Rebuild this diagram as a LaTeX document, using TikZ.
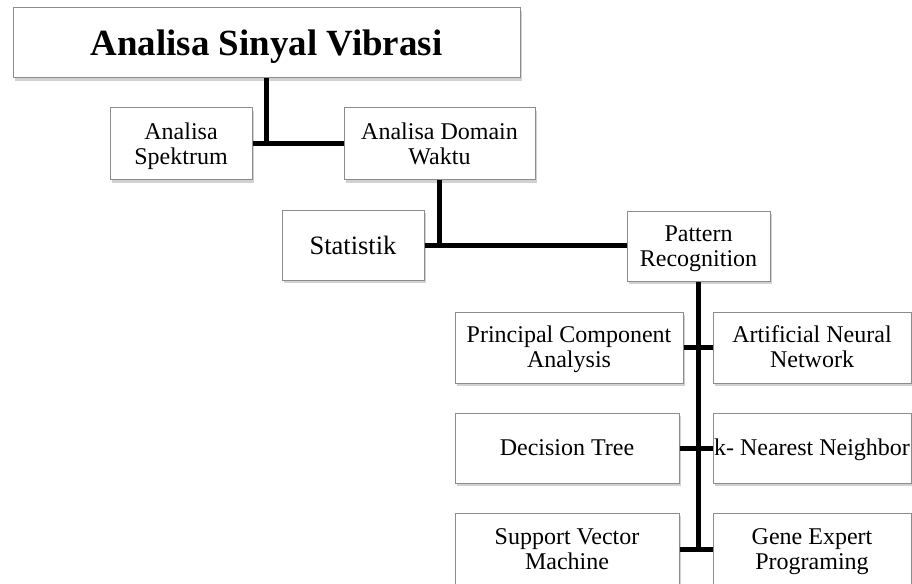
\documentclass[tikz,border=0pt]{standalone}
\usepackage{fontspec}
\setmainfont{Liberation Serif}
\usetikzlibrary{shadows}

\tikzset{every picture/.style={line width=0.75pt}}
\tikzset{
  box/.style={draw={rgb, 255:red, 140; green, 140; blue, 140}, fill=white, line width=0.75pt, align=center, inner sep=0.5pt,
    drop shadow={shadow xshift=1.2pt, shadow yshift=-2.2pt, fill=black!45, opacity=0.4},
    font=\fontsize{18}{18.75}\selectfont, text height=16.4pt, text depth=4.5pt},
  twoline/.style={text height=35.15pt},
  conn/.style={line width=3.75pt, color=black},
}

\begin{document}
\begin{tikzpicture}[x=0.75pt,y=0.75pt,yscale=-1,xscale=1]
    \useasboundingbox (0,0) rectangle (912,584);
    \clip (0,0) rectangle (912,584);

    % Title Box
    \node [box, minimum width=380.25pt, minimum height=52.5pt, font=\fontsize{27.7}{30}\selectfont\bfseries, text height=23.8pt, text depth=5pt] (title) at (266.5,43) {Analisa Sinyal Vibrasi};

    % Level 1 Boxes
    \node [box, twoline, minimum width=106.5pt, minimum height=54pt] (spektrum) at (181,144) {Analisa\\Spektrum};
    \node [box, twoline, minimum width=143.25pt, minimum height=54pt] (domain) at (439.5,144) {Analisa Domain\\Waktu};

    % Level 2 Boxes
    \node [box, minimum width=106.5pt, minimum height=52.5pt, font=\fontsize{19.9}{20.5}\selectfont, text height=17.74pt] (statistik) at (353,245.5) {Statistik};
    \node [box, twoline, minimum width=107.25pt, minimum height=52.5pt] (pattern) at (698.5,246.5) {Pattern\\Recognition};

    % Method Boxes
    \node [box, twoline, minimum width=171pt, minimum height=53.25pt] (pca) at (569,347.5) {Principal Component\\Analysis};
    \node [box, twoline, minimum width=148.5pt, minimum height=53.25pt] (ann) at (812,347.5) {Artificial Neural\\Network};
    \node [box, minimum width=168pt, minimum height=52.5pt] (dtree) at (567,448) {Decision Tree};
    \node [box, minimum width=148.5pt, minimum height=52.5pt] (knn) at (812,448) {k- Nearest Neighbor};
    \node [box, twoline, minimum width=168pt, minimum height=54pt] (svm) at (567,549) {Support Vector\\Machine};
    \node [box, twoline, minimum width=148.5pt, minimum height=54pt] (gep) at (812,549) {Gene Expert\\Programing};

    %Straight Lines
    \draw [conn] (spektrum.east) -- (domain.west);
    \draw [conn] (title.south) -- (title.south |- spektrum.east);
    %Straight Lines
    \draw [conn] (statistik.east) -- (pattern.west |- statistik.east);
    \draw [conn] (domain.south) -- (domain.south |- statistik.east);
    %Straight Lines
    \draw [conn] (pattern.south) -- (pattern.south |- svm.east);
    \draw [conn] (pca.east) -- (ann.west);
    \draw [conn] (dtree.east) -- (knn.west);
    \draw [conn] (svm.east) -- (gep.west);

\end{tikzpicture}
\end{document}
